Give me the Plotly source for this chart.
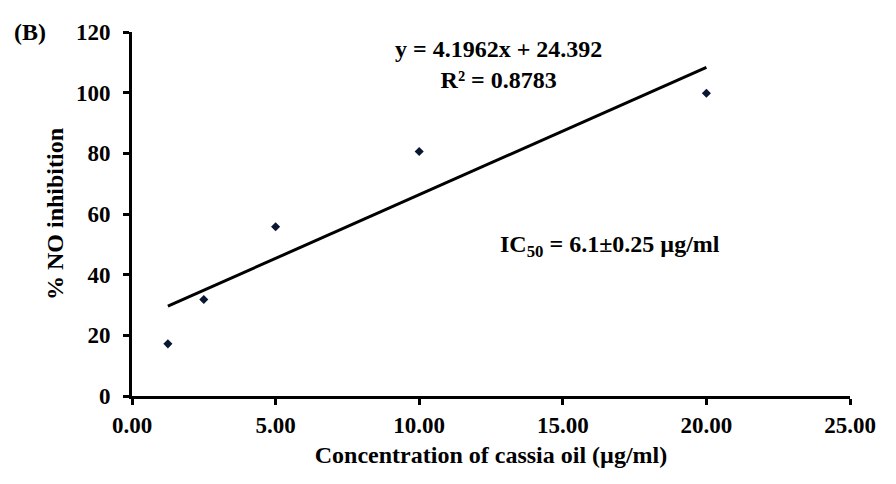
import numpy as np
import plotly.graph_objects as go

# Data
concentration = [1.25, 2.5, 5.0, 10.0, 20.0]
inhibition = [17.2, 31.8, 55.8, 80.6, 99.8]
slope = 4.1962
intercept = 24.392
x_ticks = [0, 5, 10, 15, 20, 25]
x_ticklabels = ["0.00", "5.00", "10.00", "15.00", "20.00", "25.00"]
y_ticks = [0, 20, 40, 60, 80, 100, 120]

fit_x = [min(concentration), max(concentration)]
fit_y = [slope * v + intercept for v in fit_x]

FONT = "Liberation Serif, Times New Roman, serif"

# the page body has an 8px margin; keep the figure inside the window
W, H = 880, 468
PL, PR, PT, PB = 124, 26, 15, 71
PW = W - PL - PR
PH = H - PT - PB


def px_x(px):
    return (px - 8 - PL) / PW


def px_y(py):
    return 1 - (py - 8 - PT) / PH


fig = go.Figure()
fig.add_trace(go.Scatter(x=fit_x, y=fit_y, mode="lines",
                         line=dict(color="black", width=3), showlegend=False))
fig.add_trace(go.Scatter(x=concentration, y=inhibition, mode="markers",
                         marker=dict(symbol="diamond", size=7, color="#0b1633"),
                         showlegend=False))

axis_common = dict(showline=True, linecolor="black", linewidth=3,
                   ticks="outside", ticklen=6, tickwidth=3, tickcolor="black",
                   showgrid=False, zeroline=False,
                   tickfont=dict(family=FONT, size=23, color="black", weight="bold"))

title_font = dict(family=FONT, size=24, color="black", weight="bold")

fig.update_xaxes(range=[0, 25], tickvals=x_ticks, ticktext=x_ticklabels,
                 title=dict(text="Concentration of cassia oil (µg/ml)",
                            font=title_font, standoff=10),
                 **axis_common)
fig.update_yaxes(range=[0, 120], tickvals=y_ticks, ticklabelstandoff=8,
                 title=dict(text="% NO inhibition", font=title_font, standoff=6),
                 **axis_common)

ann_font = dict(family=FONT, size=24, color="black", weight="bold")
fig.add_annotation(text="y = 4.1962x + 24.392<br>R² = 0.8783",
                   x=px_x(505), y=px_y(57), xref="paper", yref="paper",
                   showarrow=False, xanchor="center", yanchor="middle",
                   font=ann_font)
fig.add_annotation(text="IC<sub>50</sub> = 6.1±0.25 µg/ml",
                   x=px_x(618), y=px_y(248), xref="paper", yref="paper",
                   showarrow=False, xanchor="center", yanchor="middle",
                   font=ann_font)
fig.add_annotation(text="(B)", x=px_x(28), y=px_y(23), xref="paper", yref="paper",
                   showarrow=False, xanchor="center", yanchor="middle",
                   font=ann_font)

fig.update_layout(width=W, height=H,
                  margin=dict(l=PL, r=PR, t=PT, b=PB),
                  plot_bgcolor="white", paper_bgcolor="white",
                  font=dict(family=FONT, color="black"))

fig.write_html("out.html")
